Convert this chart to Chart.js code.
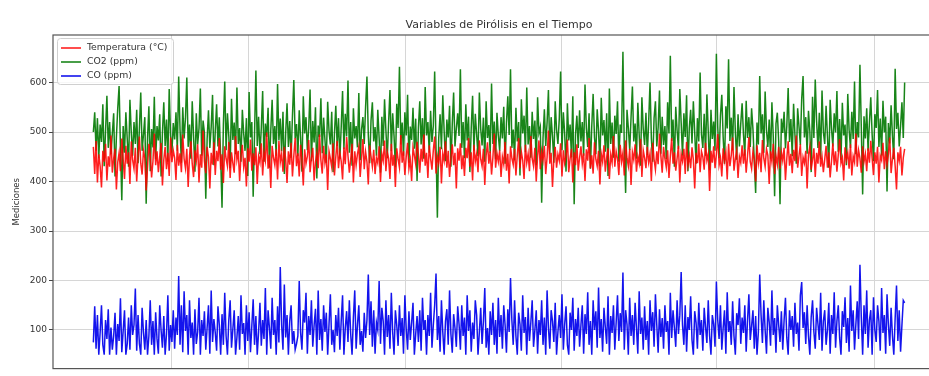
<!DOCTYPE html>
<html>
<head>
<meta charset="utf-8">
<script src="https://cdn.jsdelivr.net/npm/chart.js@4.4.1/dist/chart.umd.min.js"></script>
<style>
  html, body { margin: 0; padding: 0; background: #fff; overflow: hidden; }
  #wrap { position: absolute; left: 0; top: 0; width: 945px; height: 376px; }
</style>
</head>
<body>
<div id="wrap"><canvas id="pirolisis" width="945" height="376"></canvas></div>
<script>
/* =========================
   DATOS
========================= */
const titulo = 'Variables de Pirólisis en el Tiempo';
const tituloY = 'Mediciones';
const nombres = ['Temperatura (°C)', 'CO2 (ppm)', 'CO (ppm)'];

const temperatura = [
  470,415,482,398,455,431,388,462,440,476,402,451,430,493,418,447,466,384,439,458,421,487,445,405,472,436,459,395,481,443,
  426,468,400,452,491,437,414,463,447,382,429,476,455,408,441,497,433,461,419,450,478,392,444,470,425,458,411,489,439,463,
  448,403,474,432,457,419,495,446,427,466,389,452,481,436,409,463,442,475,398,455,428,503,441,417,470,449,386,458,434,479,
  413,462,441,488,424,455,397,471,446,431,480,407,459,437,418,492,444,462,401,453,474,429,448,390,467,440,485,422,457,433,
  469,395,451,438,477,412,460,443,499,426,454,387,472,448,433,465,404,482,439,456,420,470,445,397,461,434,478,410,452,488,
  431,457,410,474,445,392,465,436,451,484,419,447,468,402,439,458,427,495,443,416,472,437,455,383,461,446,429,477,412,450,
  482,427,458,441,404,469,435,490,452,418,445,476,398,461,433,456,471,409,447,486,425,460,440,394,473,451,430,464,415,448,
  437,471,399,456,442,483,421,460,447,405,476,432,454,389,467,445,428,494,438,461,413,450,478,426,444,401,469,453,435,480,
  455,418,466,440,495,432,458,407,473,446,424,463,491,416,451,437,470,396,457,442,481,428,462,409,448,475,433,458,386,467,
  442,477,425,453,411,468,447,488,430,459,402,474,440,456,419,483,445,431,466,393,452,479,436,461,414,449,497,428,457,440,
  463,409,450,435,480,422,456,396,471,447,434,466,412,453,488,427,460,443,405,474,438,456,421,492,446,431,468,400,452,483,
  425,461,443,472,415,449,503,436,458,389,447,470,428,455,442,477,410,463,437,451,485,419,446,466,398,459,433,475,422,448,
  471,436,457,401,465,442,488,427,453,416,479,445,431,462,394,456,440,473,420,449,467,405,454,438,492,430,461,446,413,474,
  440,458,412,483,447,431,466,393,459,444,475,420,451,437,486,409,463,448,427,470,439,456,401,478,445,424,461,435,497,452,
  418,470,446,429,463,407,451,488,436,459,422,447,472,398,455,441,466,415,480,433,452,427,469,444,386,458,437,476,419,461,
  450,424,478,443,456,381,462,438,471,427,455,496,433,448,410,467,442,459,404,476,431,453,489,422,446,463,407,450,438,473,
  436,465,418,452,490,440,426,461,445,400,473,437,458,419,484,447,430,466,453,395,461,440,476,415,452,434,470,426,459,442,
  468,403,447,481,432,456,417,464,441,493,428,452,475,411,449,437,462,386,455,471,424,444,467,409,458,436,481,430,450,419,
  445,472,428,459,408,441,477,433,461,420,454,486,437,448,402,469,444,458,426,475,412,451,439,497,430,463,447,418,471,440,
  456,421,467,438,482,447,413,459,436,470,398,452,443,478,425,461,434,455,489,417,446,468,431,384,459,442,470,412,448,466
];

const co2 = [
  500,540,462,528,447,515,480,556,431,502,573,468,520,455,497,538,410,489,548,593,470,362,512,458,540,487,430,565,499,452,
  520,476,545,437,508,580,462,495,530,355,488,552,421,506,469,571,445,512,483,536,410,498,560,472,525,440,587,493,458,518,
  485,540,462,612,505,438,550,487,528,610,470,515,446,562,491,420,538,475,507,588,452,523,499,365,486,544,468,510,575,433,
  502,556,471,530,448,347,515,602,463,538,492,427,567,484,519,455,590,476,508,440,545,497,462,528,411,581,489,520,369,495,
  624,472,531,455,508,583,440,517,490,549,428,503,565,476,512,452,597,483,527,461,541,415,498,558,470,522,448,533,605,487,
  516,451,544,488,420,572,497,530,463,508,586,441,522,479,550,406,513,490,568,457,529,484,438,561,502,475,541,419,496,553,
  472,528,446,510,583,465,537,491,604,458,520,432,548,487,512,469,579,443,505,530,476,551,612,494,437,523,560,481,510,452,
  545,488,418,531,472,566,503,447,520,585,461,538,492,429,557,508,632,475,519,452,540,493,575,438,511,484,549,466,527,401,
  509,562,475,528,446,591,493,520,458,543,480,512,622,470,327,488,536,465,574,502,441,525,489,553,430,516,580,471,507,538,
  492,627,468,520,447,556,483,531,419,508,573,462,537,495,451,580,506,473,529,440,562,488,514,457,598,476,521,445,539,493,
  462,530,487,551,436,518,572,494,627,468,505,443,549,481,520,412,566,497,533,459,590,475,512,448,541,486,523,433,570,498,
  510,357,488,546,472,519,585,455,530,491,438,562,504,476,527,622,463,540,497,420,558,483,515,449,572,354,496,533,468,544,
  481,520,452,596,507,470,538,426,512,577,489,455,546,502,431,569,493,524,460,538,411,588,476,519,448,533,496,562,440,515,
  498,662,470,377,545,508,463,530,592,481,517,446,559,495,432,570,506,474,539,453,520,600,487,440,528,562,471,509,584,456,
  531,474,512,445,560,497,654,482,525,430,551,503,466,587,519,452,538,490,574,421,508,545,477,562,499,436,528,481,620,495,
  468,537,452,576,501,423,545,486,521,462,658,510,447,533,575,490,436,552,507,647,482,529,463,591,500,444,536,471,517,558,
  495,452,563,488,530,470,548,506,440,377,519,475,613,497,536,458,582,503,470,525,446,560,491,370,517,539,482,354,527,498,
  541,467,512,589,480,526,451,557,495,436,548,511,474,567,613,489,530,456,543,502,419,571,488,606,522,468,539,445,584,500,
  476,553,492,428,565,507,471,538,499,583,460,526,444,559,493,515,433,577,504,468,541,486,602,455,520,489,636,510,374,532,
  487,548,462,519,570,495,441,536,508,585,470,527,452,563,499,531,380,518,477,554,492,445,628,506,539,471,512,560,488,600
];

const co = [
  75,148,62,130,50,95,150,70,50,120,82,142,50,105,60,88,135,50,112,78,164,55,98,140,50,72,125,60,150,90,
  110,184,58,130,72,50,145,95,60,120,50,88,160,70,118,50,136,82,52,150,100,64,128,50,92,170,58,110,76,140,
  62,125,90,209,70,150,55,178,98,130,50,160,84,115,50,142,72,96,165,50,120,88,138,60,105,150,52,180,76,122,
  95,58,148,110,50,132,70,175,88,50,120,160,64,102,140,50,85,128,60,170,92,114,50,150,78,136,55,108,162,70,
  128,50,96,155,68,120,82,185,50,140,104,62,165,90,120,50,148,75,227,110,60,192,85,130,50,118,150,72,98,60,
  72,88,199,95,60,140,115,175,52,128,90,160,66,110,143,50,180,80,122,58,150,96,135,50,112,172,70,100,55,130,
  88,145,60,118,170,50,104,138,76,160,92,50,126,180,62,110,150,70,98,56,135,84,120,212,90,158,66,140,52,115,
  100,199,72,145,118,50,160,86,130,62,175,96,50,140,110,68,150,88,124,52,170,102,60,138,80,115,155,50,92,128,
  76,140,58,165,100,120,50,130,88,175,64,110,150,214,80,128,56,160,96,50,118,142,70,180,92,54,132,104,66,148,
  112,60,150,88,125,50,170,98,140,56,115,82,160,130,50,96,145,72,118,185,64,104,50,138,90,155,70,120,52,165,
  86,130,62,150,110,54,142,96,205,120,70,160,88,50,135,112,58,170,94,126,50,145,78,115,160,66,100,140,52,120,
  90,160,70,125,50,180,104,62,140,118,76,155,50,96,130,84,172,60,112,148,70,50,135,100,165,58,122,88,145,66,
  110,150,52,132,92,176,70,118,50,160,100,138,64,186,84,122,56,145,106,72,168,50,128,94,150,60,115,170,78,134,
  96,216,60,140,112,50,165,88,130,70,155,104,52,178,92,125,60,148,80,118,50,160,98,136,66,172,110,54,142,86,
  124,62,150,96,118,50,175,84,140,104,66,160,92,130,217,110,70,150,56,126,100,168,80,50,138,115,62,155,90,120,
  58,145,106,74,160,88,50,130,112,66,198,120,82,150,60,104,140,52,176,96,118,70,158,88,50,134,110,164,72,125,
  94,150,56,120,172,80,108,140,62,128,50,96,212,130,74,160,100,52,145,116,68,180,90,124,54,150,110,76,138,60,
  120,165,84,50,140,100,128,66,155,92,115,58,170,197,104,136,72,150,88,50,126,160,96,62,145,112,80,175,58,118,
  140,70,100,155,52,130,92,176,64,118,150,84,50,138,106,166,74,124,56,190,98,140,60,112,158,82,232,126,50,150,
  92,180,64,120,140,50,166,100,76,150,118,58,185,94,130,52,172,110,68,145,88,50,124,190,78,140,56,110,160,155
];

const muestras = co.map((_, i) => i);
const marcasX = [57.4, 114.7, 230.2, 345.7, 460.4, 576.7];
const marcasY = [100, 200, 300, 400, 500, 600];

const colores = ['rgba(255,0,0,0.88)', 'rgba(0,120,0,0.9)', 'rgba(0,0,235,0.92)'];

/* =========================
   TÍTULO, MARCO Y LEYENDA
========================= */
const adornos = {
  id: 'adornos',
  afterDatasetsDraw(chart) {
    const ctx = chart.ctx;
    const a = chart.chartArea;
    ctx.save();

    // marco de los ejes
    ctx.strokeStyle = '#555';
    ctx.lineWidth = 1.2;
    ctx.strokeRect(a.left, a.top, a.right - a.left, a.bottom - a.top);

    // título centrado sobre el área de datos
    ctx.fillStyle = '#333';
    ctx.font = '11px "DejaVu Sans"';
    ctx.textAlign = 'center';
    ctx.textBaseline = 'middle';
    ctx.fillText(titulo, (a.left + a.right) / 2, 25);

    // leyenda
    ctx.fillStyle = 'rgba(255,255,255,0.8)';
    ctx.strokeStyle = '#d0d0d0';
    ctx.lineWidth = 1;
    ctx.beginPath();
    ctx.roundRect(57.5, 38.5, 116, 46, 3);
    ctx.fill();
    ctx.stroke();
    ctx.font = '9.3px "DejaVu Sans"';
    ctx.textAlign = 'left';
    nombres.forEach((n, i) => {
      const y = 48 + i * 14;
      ctx.strokeStyle = colores[i];
      ctx.lineWidth = 1.6;
      ctx.beginPath();
      ctx.moveTo(61, y);
      ctx.lineTo(81, y);
      ctx.stroke();
      ctx.fillStyle = '#333';
      ctx.fillText(n, 87, y);
    });
    ctx.restore();
  }
};

/* =========================
   GRÁFICA
========================= */
const ctx = document.getElementById('pirolisis').getContext('2d');
const chart = new Chart(ctx, {
  type: 'line',
  data: {
    labels: muestras,
    datasets: [
      { label: nombres[0], data: temperatura, borderColor: colores[0] },
      { label: nombres[1], data: co2, borderColor: colores[1] },
      { label: nombres[2], data: co, borderColor: colores[2] }
    ]
  },
  options: {
    animation: false,
    responsive: false,
    elements: {
      line: { borderWidth: 1.5, tension: 0 },
      point: { radius: 0 }
    },
    layout: { padding: { top: 35 } },
    plugins: {
      legend: { display: false },
      tooltip: { enabled: false },
      title: { display: false }
    },
    scales: {
      x: {
        type: 'linear',
        min: -29.8,
        max: 628.8,
        afterBuildTicks: s => { s.ticks = marcasX.map(v => ({ value: v })); },
        afterFit: s => { s.height = 3; },
        ticks: { display: false },
        grid: { color: '#d6d6d6', drawTicks: false },
        border: { display: false }
      },
      y: {
        min: 22,
        max: 696,
        afterBuildTicks: s => { s.ticks = marcasY.map(v => ({ value: v })); },
        afterFit: s => { s.width = 53; },
        ticks: {
          color: '#333',
          padding: 2,
          font: { family: 'DejaVu Sans', size: 9 }
        },
        grid: { color: '#d6d6d6', tickColor: '#444', tickLength: 4 },
        border: { display: false },
        title: {
          display: true,
          text: tituloY,
          color: '#333',
          font: { family: 'DejaVu Sans', size: 8.5 },
          padding: { top: 12, bottom: 0 }
        }
      }
    }
  },
  plugins: [adornos]
});
</script>
</body>
</html>
